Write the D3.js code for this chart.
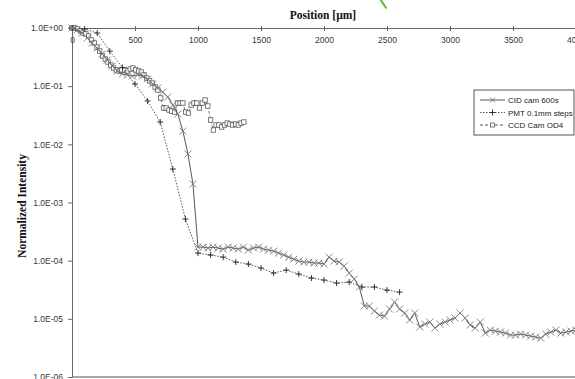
<!DOCTYPE html>
<html><head><meta charset="utf-8">
<script src="https://cdn.jsdelivr.net/npm/d3@7"></script>
<style>body{margin:0;background:#fff;overflow:hidden}</style>
</head><body>
<svg id="c" width="575" height="379"></svg>
<script>
// ---- data ----
const seriesNames = ["CID cam 600s", "PMT 0.1mm steps", "CCD Cam OD4"];

const cidPosition = [0,40,80,120,160,200,240,280,320,360,400,440,480,520,560,600,640,680,720,760,
 800,840,880,920,960,1000,1040,1080,1120,1160,1200,1240,1280,1320,1360,1400,1440,1480,1520,1560,
 1600,1640,1680,1720,1760,1800,1840,1880,1920,1960,2000,2040,2080,2120,2160,2200,2240,2280,2320,2360,
 2400,2440,2480,2520,2560,2600,2640,2680,2720,2760,2800,2840,2880,2920,2960,3000,3040,3080,3120,3160,
 3200,3240,3280,3320,3360,3400,3440,3480,3520,3560,3600,3640,3680,3720,3760,3800,3840,3880,3920,3960,4000];
const cidIntensity = [1.0,0.924,0.820,0.673,0.552,0.453,0.357,0.282,0.222,0.182,
 0.162,0.156,0.150,0.156,0.150,0.133,0.109,0.0930,0.0793,0.0651,
 0.0474,0.0332,0.0169,0.00681,0.00208,1.71e-4,1.71e-4,1.65e-4,1.71e-4,1.65e-4,
 1.58e-4,1.71e-4,1.65e-4,1.58e-4,1.71e-4,1.52e-4,1.65e-4,1.71e-4,1.58e-4,1.52e-4,
 1.46e-4,1.35e-4,1.25e-4,1.15e-4,1.06e-4,9.84e-5,9.46e-5,9.46e-5,9.10e-5,9.10e-5,
 8.74e-5,1.15e-4,9.84e-5,9.46e-5,8.07e-5,6.12e-5,4.83e-5,3.52e-5,1.66e-5,1.66e-5,
 1.36e-5,1.16e-5,1.11e-5,1.47e-5,1.94e-5,1.47e-5,1.26e-5,9.52e-6,1.26e-5,7.22e-6,
 8.12e-6,8.79e-6,6.94e-6,8.12e-6,8.79e-6,9.52e-6,1.03e-5,1.26e-5,1.03e-5,7.81e-6,
 6.94e-6,8.79e-6,5.69e-6,6.41e-6,6.15e-6,5.92e-6,5.69e-6,5.26e-6,5.26e-6,5.47e-6,
 5.26e-6,5.05e-6,4.86e-6,4.67e-6,5.47e-6,5.92e-6,6.41e-6,5.69e-6,5.92e-6,6.15e-6,6.41e-6];

const pmtPosition = [0,100,200,300,400,500,600,700,800,900,1000,1100,1200,1300,1400,1500,1600,1700,1800,1900,2000,2100,2200,2300,2400,2500,2600];
const pmtIntensity = [1.0,0.96,0.82,0.40,0.21,0.109,0.0556,0.0242,0.00376,5.19e-4,
 1.35e-4,1.25e-4,1.15e-4,9.46e-5,8.74e-5,7.46e-5,6.12e-5,6.89e-5,5.88e-5,5.02e-5,
 4.64e-5,4.12e-5,4.29e-5,3.52e-5,3.52e-5,3.12e-5,2.88e-5];

const ccdPosition = [0,22,44,66,88,110,132,154,176,198,220,242,264,286,308,330,352,374,396,418,
 440,462,484,506,528,550,572,594,616,638,660,682,704,726,748,770,792,814,836,858,
 880,902,924,946,968,990,1012,1034,1056,1078,1100,1122,1144,1166,1188,1210,1232,1254,1276,1298,
 1320,1342,1364];
const ccdIntensity = [1.0,1.0,0.961,0.888,0.820,0.789,0.729,0.622,0.552,0.471,
 0.402,0.330,0.293,0.260,0.231,0.205,0.190,0.182,0.190,0.190,
 0.182,0.197,0.205,0.190,0.182,0.175,0.156,0.138,0.123,0.113,
 0.0969,0.0859,0.0626,0.0421,0.0421,0.0389,0.0374,0.0359,0.0513,0.0513,
 0.0513,0.0359,0.0345,0.0474,0.0513,0.0513,0.0421,0.0513,0.0578,0.0456,
 0.0262,0.0176,0.0215,0.0215,0.0199,0.0215,0.0232,0.0223,0.0215,0.0223,
 0.0215,0.0232,0.0242];

const xTicks = [0,500,1000,1500,2000,2500,3000,3500,4000];
const yTicks = [1,1e-1,1e-2,1e-3,1e-4,1e-5,1e-6];
const yTickLabels = ["1.0E+00","1.0E-01","1.0E-02","1.0E-03","1.0E-04","1.0E-05","1.0E-06"];
const xTitle = "Position [µm]";
const yTitle = "Normalized Intensity";

// ---- chart ----
const svg = d3.select("#c");
const x = d3.scaleLinear().domain([0,4000]).range([72,576]);
const y = d3.scaleLog().domain([1,1e-6]).range([28,377]);

// green annotation stroke at the top
svg.append("line").attr("x1",380).attr("y1",-1).attr("x2",386.5).attr("y2",8.5)
  .attr("stroke","#5cb83a").attr("stroke-width",2);

// bottom border
svg.append("line").attr("x1",72).attr("x2",575).attr("y1",y(1e-6)).attr("y2",y(1e-6))
  .attr("stroke","#8a8a8a").attr("stroke-width",1.5);

// x axis (top)
const xa = svg.append("g").attr("transform",`translate(0,${y(1)})`)
  .call(d3.axisBottom(x).tickValues(xTicks).tickSizeInner(3).tickSizeOuter(0).tickPadding(6).tickFormat(d3.format("d")));
xa.select(".domain").attr("stroke","#666");
xa.selectAll(".tick line").attr("stroke","#666").attr("y1",-2);
xa.selectAll("text").attr("font-family","Arial, Liberation Sans, sans-serif").attr("font-size",8.5).attr("fill","#383838");

// y axis
const ya = svg.append("g").attr("transform",`translate(${x(0)},0)`)
  .call(d3.axisLeft(y).tickValues(yTicks).tickSizeInner(4).tickSizeOuter(0).tickPadding(5)
    .tickFormat((d,i)=>yTickLabels[i]));
ya.select(".domain").attr("stroke","#666");
ya.selectAll(".tick line").attr("stroke","#666");
ya.selectAll("text").attr("font-family","Arial, Liberation Sans, sans-serif").attr("font-size",8.5).attr("fill","#383838");

// titles
svg.append("text").attr("x",323).attr("y",19).attr("text-anchor","middle")
  .attr("font-family","Liberation Serif, Times New Roman, serif").attr("font-weight","bold")
  .attr("font-size",11.5).attr("fill","#111").text(xTitle);
svg.append("text").attr("transform","translate(26,206) rotate(-90)").attr("text-anchor","middle")
  .attr("font-family","Liberation Serif, Times New Roman, serif").attr("font-weight","bold")
  .attr("font-size",11.5).attr("fill","#111").text(yTitle);

const mk = (a,b)=>a.map((v,i)=>({x:v,y:b[i]}));
const cid = mk(cidPosition,cidIntensity), pmt = mk(pmtPosition,pmtIntensity), ccd = mk(ccdPosition,ccdIntensity);
const line = d3.line().x(d=>x(d.x)).y(d=>y(d.y));

const xPath = (cx,cy,r)=>`M${cx-r},${cy-r}L${cx+r},${cy+r}M${cx-r},${cy+r}L${cx+r},${cy-r}`;
const plusPath = (cx,cy,r)=>`M${cx-r},${cy}L${cx+r},${cy}M${cx},${cy-r}L${cx},${cy+r}`;

// CCD (dashed, squares)
svg.append("path").datum(ccd).attr("d",line).attr("fill","none").attr("stroke","#555")
  .attr("stroke-width",0.8).attr("stroke-dasharray","3,2");
svg.append("g").selectAll("rect").data(ccd).join("rect")
  .attr("x",d=>x(d.x)-2.2).attr("y",d=>y(d.y)-2.2).attr("width",4.4).attr("height",4.4)
  .attr("fill","#fff").attr("stroke","#444").attr("stroke-width",0.7);

// PMT (dotted, plus)
svg.append("path").datum(pmt).attr("d",line).attr("fill","none").attr("stroke","#444")
  .attr("stroke-width",0.9).attr("stroke-dasharray","1.5,1.5");
svg.append("g").selectAll("path").data(pmt).join("path")
  .attr("d",d=>plusPath(x(d.x),y(d.y),3)).attr("stroke","#222").attr("stroke-width",0.9);

// CID (solid, x markers)
svg.append("path").datum(cid).attr("d",line).attr("fill","none").attr("stroke","#444").attr("stroke-width",0.9);
svg.append("g").selectAll("path").data(cid).join("path")
  .attr("d",d=>xPath(x(d.x),y(d.y),3.5)).attr("stroke","#7a7a7a").attr("stroke-width",0.9);

// legend
const lg = svg.append("g").attr("transform","translate(474,90)");
lg.append("rect").attr("x",0).attr("y",0).attr("width",100).attr("height",45)
  .attr("fill","#fff").attr("stroke","#555").attr("stroke-width",1);
const items = [
  {dash:null, marker:"x"},
  {dash:"1.5,1.5", marker:"plus"},
  {dash:"3,2", marker:"sq"}
];
items.forEach((it,i)=>{
  const cy = 10 + i*12.5;
  const l = lg.append("line").attr("x1",6).attr("x2",31).attr("y1",cy).attr("y2",cy)
    .attr("stroke","#444").attr("stroke-width",0.9);
  if (it.dash) l.attr("stroke-dasharray",it.dash);
  if (it.marker==="x") lg.append("path").attr("d",xPath(18.5,cy,2.5)).attr("stroke","#666").attr("stroke-width",0.8);
  if (it.marker==="plus") lg.append("path").attr("d",plusPath(18.5,cy,3)).attr("stroke","#222").attr("stroke-width",0.9);
  if (it.marker==="sq") lg.append("rect").attr("x",16.5).attr("y",cy-2).attr("width",4).attr("height",4)
    .attr("fill","#fff").attr("stroke","#444").attr("stroke-width",0.7);
  lg.append("text").attr("x",34).attr("y",cy+3).attr("font-family","Arial, Liberation Sans, sans-serif")
    .attr("font-size",8).attr("fill","#222").text(seriesNames[i]);
});
</script>
</body></html>
